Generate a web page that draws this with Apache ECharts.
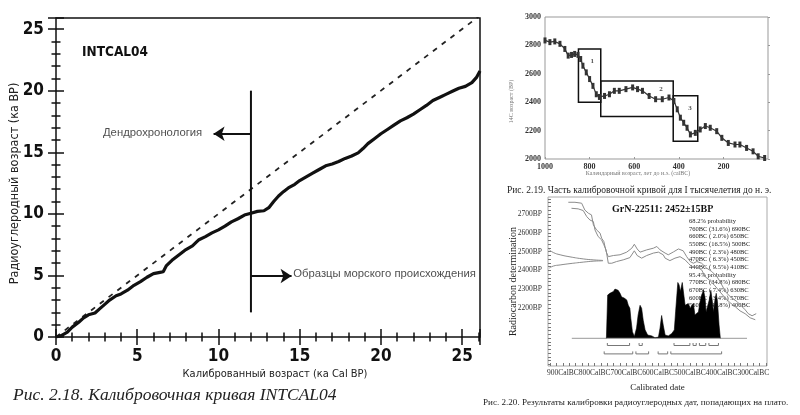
<!DOCTYPE html>
<html><head><meta charset="utf-8">
<script src="https://cdn.jsdelivr.net/npm/echarts@6/dist/echarts.min.js"></script>
<style>html,body{margin:0;padding:0;background:#fff}#c{width:800px;height:415px}</style>
</head><body><div id="c"></div>
<script>
// ---------- Chart 1: INTCAL04 ----------
const intcalCurve = [[0,0],[0.3,0.1],[0.7,0.4],[1.0,0.8],[1.4,1.2],[1.7,1.55],[2.0,1.8],[2.4,1.95],[2.7,2.3],[3.0,2.65],[3.3,3.0],[3.7,3.35],[4.0,3.5],[4.4,3.8],[4.8,4.2],[5.2,4.5],[5.6,4.85],[6.0,5.15],[6.4,5.25],[6.6,5.3],[6.8,5.8],[7.2,6.3],[7.6,6.7],[8.0,7.1],[8.4,7.4],[8.8,7.9],[9.2,8.15],[9.6,8.45],[10.0,8.7],[10.4,9.0],[10.8,9.35],[11.2,9.6],[11.6,9.9],[12.0,10.05],[12.4,10.2],[12.8,10.25],[13.1,10.5],[13.4,11.0],[13.7,11.45],[14.0,11.8],[14.3,12.1],[14.7,12.4],[15.0,12.7],[15.4,13.0],[15.8,13.3],[16.2,13.6],[16.6,13.9],[17.0,14.05],[17.4,14.25],[17.8,14.5],[18.2,14.7],[18.6,14.95],[18.9,15.3],[19.2,15.7],[19.6,16.1],[20.0,16.5],[20.4,16.85],[20.8,17.2],[21.2,17.55],[21.6,17.8],[22.0,18.1],[22.4,18.45],[22.8,18.8],[23.2,19.2],[23.6,19.45],[24.0,19.7],[24.4,19.95],[24.8,20.2],[25.2,20.35],[25.6,20.65],[25.9,21.1],[26.1,21.6]];
const oneToOne = [[0,0],[26,26]];
const dividerLine = [[12,2],[12,20]];
const dendroArrow = [[12,16.5],[9.7,16.5]];
const marineArrow = [[12,4.95],[14.5,4.95]];
const chart1Notes = [
  {name:'Дендрохронология', value:[9.0,16.6], side:'left'},
  {name:'Образцы морского происхождения', value:[14.6,5.1], side:'right'}
];
const chart1Title = 'INTCAL04';
const chart1XName = 'Калиброванный возраст (ка Cal BP)';
const chart1YName = 'Радиоуглеродный возраст (ка BP)';
const caption1 = 'Рис. 2.18. Калибровочная кривая INTCAL04';

// ---------- Chart 2: 1st millennium BC ----------
const c14Curve = [[1000,2835],[978,2823],[956,2828],[933,2811],[911,2775],[896,2728],[881,2733],[867,2740],[852,2733],[840,2704],[830,2657],[815,2610],[800,2563],[785,2515],[770,2456],[756,2437],[733,2444],[711,2456],[689,2480],[667,2480],[637,2492],[607,2504],[585,2492],[563,2480],[533,2444],[504,2421],[474,2421],[444,2433],[422,2409],[407,2350],[393,2291],[378,2255],[363,2220],[348,2173],[326,2184],[304,2208],[281,2232],[259,2220],[230,2196],[207,2149],[178,2113],[148,2102],[126,2102],[96,2078],[67,2054],[44,2019],[15,2007]];
const plateauBoxes = [[850,750,2400,2775],[750,425,2300,2550],[425,315,2125,2445]]; // [fromYear,toYear,lowBP,highBP]
const boxLabels = [{name:'1', value:[788,2690]},{name:'2', value:[480,2490]},{name:'3', value:[350,2360]}];
const chart2XLabels = [1000,800,600,400,200];
const chart2XName = 'Календарный возраст, лет до н.э. (calBC)';
const chart2YName = '14C возраст (BP)';
const caption2 = 'Рис. 2.19. Часть калибровочной кривой для I тысячелетия до н. э.';

// ---------- Chart 3: GrN-22511 ----------
const calUpper = [[883,2762],[862,2762],[841,2757],[831,2721],[820,2704],[810,2695],[804,2642],[794,2615],[783,2598],[778,2571],[771,2553],[764,2500],[757,2473],[741,2479],[720,2483],[699,2497],[683,2518],[675,2539],[666,2514],[657,2497],[636,2509],[615,2518],[604,2527],[594,2509],[578,2492],[568,2483],[552,2498],[536,2514],[521,2504],[510,2473],[499,2447],[489,2438],[478,2447],[463,2438],[447,2412],[431,2394],[415,2367],[405,2341],[394,2306],[384,2279],[368,2253],[352,2235],[336,2208],[326,2191],[316,2170],[304,2159],[291,2170]];
const calLower = [[873,2730],[852,2727],[836,2718],[825,2686],[815,2668],[804,2659],[799,2615],[789,2580],[778,2562],[771,2536],[764,2509],[757,2438],[746,2438],[731,2447],[710,2456],[689,2468],[675,2504],[666,2479],[652,2465],[636,2479],[615,2492],[599,2497],[584,2483],[578,2465],[563,2452],[547,2465],[531,2473],[515,2456],[505,2438],[494,2420],[478,2417],[463,2403],[452,2367],[436,2345],[421,2318],[405,2286],[389,2254],[373,2228],[357,2207],[342,2185],[326,2170],[310,2148],[294,2138]];
const measuredBP = [2510,2495,2483,2472,2461,2456,2452,2449,2444,2436,2429,2423,2412];
const measuredDensity = [0.024,0.096,0.22,0.4,0.64,0.82,1,0.82,0.64,0.4,0.22,0.096,0.024];
const calYears = [763,759,752,741,736,731,726,720,715,707,699,694,689,686,681,675,668,663,657,652,647,641,633,620,610,599,594,589,584,578,568,557,549,545,541,538,534,530,524,519,515,510,505,499,494,489,484,478,473,468,463,457,452,449,444,439,434,429,426,421,417,413,408,404];
const calProb = [0,72,75,78,82,84,80,75,69,67,64,55,50,33,11,3,17,39,55,50,30,14,5.5,4,1,2,17,38,22,5.5,4,8,14,44,72,93,89,78,93,72,55,53,58,50,53,58,39,36,44,61,72,80,67,44,42,64,80,61,44,64,75,61,22,0];
const baselineYears = [872,320];
const ranges68 = [[760,690],[660,650],[550,500],[490,480],[470,450],[440,410]];
const ranges95 = [[770,680],[670,630],[600,570],[560,400]];
const chart3XLabels = [900,800,700,600,500,400,300];
const chart3YLabels = [2700,2600,2500,2400,2300,2200];
const chart3Title = 'GrN-22511: 2452±15BP';
const probLines = ['68.2% probability','760BC (31.6%) 690BC','660BC ( 2.0%) 650BC','550BC (16.5%) 500BC','490BC ( 2.3%) 480BC','470BC ( 6.3%) 450BC','440BC ( 9.5%) 410BC','95.4% probability','770BC (34.8%) 680BC','670BC ( 7.4%) 630BC','600BC ( 3.4%) 570BC','560BC (49.8%) 400BC'];
const chart3XName = 'Calibrated date';
const chart3YName = 'Radiocarbon determination';
const caption3 = 'Рис. 2.20. Результаты калибровки радиоуглеродных дат, попадающих на плато.';

// ---------- rendering ----------
const NARROW = "'Liberation Sans Narrow','DejaVu Sans Condensed','Arial Narrow','Liberation Sans',sans-serif";
const SANS = "'Liberation Sans',Arial,sans-serif";
const SERIF = "'Liberation Serif','Times New Roman',serif";
const tickRange = (a,b,s)=>{const r=[];for(let v=a;s>0?v<=b:v>=b;v+=s)r.push(v);return r;};

const chart = echarts.init(document.getElementById('c'), null, {renderer:'canvas'});
const c1Axis = {type:'value', interval:5, splitLine:{show:false}, axisLine:{show:false}, nameMoveOverlap:false,
  axisTick:{inside:true, length:8, lineStyle:{color:'#111', width:1.5}},
  minorTick:{show:true, splitNumber:5, length:4.5, lineStyle:{color:'#111', width:1.5}},
  minorSplitLine:{show:false}};
const c1Label = {fontFamily:NARROW, fontWeight:'bold', fontSize:17, color:'#111', showMaxLabel:false};
const option = {
  backgroundColor:'#fff',
  animation:false,
  title:[
    {text:chart1Title, left:82, top:45, padding:0, textStyle:{fontFamily:NARROW, fontWeight:'bold', fontSize:13.5, color:'#111'}},
    {text:chart3Title, left:612, top:204, padding:0, textStyle:{fontFamily:SERIF, fontWeight:'bold', fontSize:10, color:'#111'}}
  ],
  grid:[
    {left:56, top:18, width:424, height:319, show:true, borderColor:'#111', borderWidth:1.5, outerBoundsMode:'none', containLabel:false},
    {left:545, top:17, width:223, height:142, show:true, borderColor:'#999', borderWidth:1, outerBoundsMode:'none', containLabel:false},
    {left:548, top:197, width:219, height:169, show:true, borderColor:'#aaa', borderWidth:1, outerBoundsMode:'none', containLabel:false},
    {left:548, top:278.3, width:219, height:79.2, outerBoundsMode:'none', containLabel:false}
  ],
  xAxis:[
    Object.assign({}, c1Axis, {gridIndex:0, min:0, max:26.1, position:'bottom',
      axisLabel:Object.assign({margin:11}, c1Label),
      name:chart1XName, nameLocation:'middle', nameGap:32,
      nameTextStyle:{fontFamily:NARROW, fontSize:11, color:'#222', padding:[0,0,0,14]}}),
    Object.assign({}, c1Axis, {gridIndex:0, min:0, max:26.1, position:'top', axisLabel:{show:false}}),
    {gridIndex:1, type:'value', inverse:true, min:0, max:1000, splitLine:{show:false}, axisLine:{show:false}, nameMoveOverlap:false,
      axisTick:{inside:true, length:2, lineStyle:{color:'#999'}, customValues:chart2XLabels},
      axisLabel:{customValues:chart2XLabels, margin:4, fontFamily:SERIF, fontWeight:'bold', fontSize:8, color:'#333', formatter:v=>String(v)},
      name:chart2XName, nameLocation:'middle', nameGap:11,
      nameTextStyle:{fontFamily:SERIF, fontSize:6, color:'#777', padding:[0,37,0,0]}},
    {gridIndex:2, type:'value', inverse:true, min:257, max:947, splitLine:{show:false}, axisLine:{show:false}, nameMoveOverlap:false,
      axisTick:{inside:true, length:3, lineStyle:{color:'#777'}, customValues:tickRange(940,260,-20)},
      axisLabel:{customValues:chart3XLabels, margin:3, fontFamily:SERIF, fontSize:7.5, color:'#333', formatter:v=>v+'CalBC'},
      name:chart3XName, nameLocation:'middle', nameGap:17,
      nameTextStyle:{fontFamily:SERIF, fontSize:9, color:'#222'}},
    {gridIndex:2, type:'value', min:0, max:3.98, show:false},
    {gridIndex:3, type:'value', inverse:true, min:257, max:947, show:false}
  ],
  yAxis:[
    Object.assign({}, c1Axis, {gridIndex:0, min:0, max:25.9, position:'left',
      axisLabel:Object.assign({margin:12}, c1Label),
      name:chart1YName, nameLocation:'middle', nameRotate:90, nameGap:35,
      nameTextStyle:{fontFamily:NARROW, fontSize:12.5, color:'#222', padding:[0,12,0,0]}}),
    Object.assign({}, c1Axis, {gridIndex:0, min:0, max:25.9, position:'right', axisLabel:{show:false}}),
    {gridIndex:1, type:'value', min:2000, max:3000, interval:200, splitLine:{show:false}, axisLine:{show:false}, nameMoveOverlap:false,
      axisTick:{inside:true, length:2, lineStyle:{color:'#999'}},
      axisLabel:{margin:4, fontFamily:SERIF, fontWeight:'bold', fontSize:8, color:'#333', formatter:v=>String(v)},
      name:chart2YName, nameLocation:'middle', nameRotate:90, nameGap:31,
      nameTextStyle:{fontFamily:SERIF, fontSize:6, color:'#777', padding:[0,27,0,0]}},
    {gridIndex:2, type:'value', min:1892, max:2790, splitLine:{show:false}, axisLine:{show:false}, nameMoveOverlap:false,
      axisTick:{inside:true, length:3, lineStyle:{color:'#777'}, customValues:tickRange(1900,2780,20)},
      axisLabel:{customValues:chart3YLabels, margin:6, fontFamily:SERIF, fontSize:7.5, color:'#333', formatter:v=>v+'BP'},
      name:chart3YName, nameLocation:'middle', nameRotate:90, nameGap:30,
      nameTextStyle:{fontFamily:SERIF, fontSize:10, color:'#222'}},
    {gridIndex:3, type:'value', min:-32, max:100, show:false}
  ],
  series:[
    {type:'line', xAxisIndex:0, yAxisIndex:0, data:oneToOne, symbol:'none', silent:true,
      lineStyle:{color:'#222', width:1.8, type:[5,6]}},
    {type:'line', xAxisIndex:0, yAxisIndex:0, data:intcalCurve, symbol:'none',
      lineStyle:{color:'#111', width:3.2}},
    {type:'line', xAxisIndex:0, yAxisIndex:0, data:dividerLine, symbol:'none',
      lineStyle:{color:'#111', width:2}},
    {type:'lines', coordinateSystem:'cartesian2d', xAxisIndex:0, yAxisIndex:0,
      symbol:['none','arrow'], symbolSize:11,
      lineStyle:{color:'#111', width:2, opacity:1},
      data:[{coords:dendroArrow},{coords:marineArrow}]},
    {type:'scatter', xAxisIndex:0, yAxisIndex:0, symbolSize:0,
      data:chart1Notes.map(n=>({name:n.name, value:n.value, label:{position:n.side}})),
      label:{show:true, formatter:'{b}', distance:0, fontFamily:SANS, fontSize:11.3, color:'#222'}},
    // chart 2
    {type:'line', xAxisIndex:2, yAxisIndex:2, data:c14Curve, symbol:'rect', symbolSize:[3,6],
      itemStyle:{color:'#333'}, lineStyle:{color:'#333', width:1.2},
      markArea:{silent:true, itemStyle:{color:'rgba(0,0,0,0)', borderColor:'#111', borderWidth:1.5},
        data:plateauBoxes.map(b=>[{coord:[b[0],b[3]]},{coord:[b[1],b[2]]}])}},
    {type:'scatter', xAxisIndex:2, yAxisIndex:2, symbolSize:0, data:boxLabels,
      label:{show:true, position:'inside', formatter:'{b}', fontFamily:SERIF, fontWeight:'bold', fontSize:7, color:'#222'}},
    // chart 3
    {type:'line', xAxisIndex:3, yAxisIndex:3, data:calUpper, symbol:'none', lineStyle:{color:'#8c8c8c', width:1}},
    {type:'line', xAxisIndex:3, yAxisIndex:3, data:calLower, symbol:'none', lineStyle:{color:'#8c8c8c', width:1}},
    {type:'line', xAxisIndex:4, yAxisIndex:3, data:measuredBP.map((b,i)=>[measuredDensity[i], b]), symbol:'none', smooth:true,
      lineStyle:{color:'#8c8c8c', width:1}},
    {type:'line', xAxisIndex:5, yAxisIndex:4, data:baselineYears.map(y=>[y,0]), symbol:'none',
      lineStyle:{color:'#999', width:1}},
    {type:'line', xAxisIndex:5, yAxisIndex:4, data:calYears.map((y,i)=>[y, calProb[i]]), symbol:'none',
      lineStyle:{color:'#000', width:0.6}, areaStyle:{color:'#000', opacity:1, origin:0}},
    {type:'custom', xAxisIndex:5, yAxisIndex:4, encode:{x:[0,1], y:2},
      data:ranges68.map(r=>[r[0],r[1],-12]).concat(ranges95.map(r=>[r[0],r[1],-26])),
      renderItem:(params, api)=>{
        const p0 = api.coord([api.value(0), api.value(2)]);
        const p1 = api.coord([api.value(1), api.value(2)]);
        const h = 2.5;
        return {type:'polyline', shape:{points:[[p0[0],p0[1]-h],p0,p1,[p1[0],p1[1]-h]]},
          style:{stroke:'#777', fill:null, lineWidth:1}};
      }}
  ],
  graphic:[
    {type:'text', left:13, top:386, style:{text:caption1, font:"italic 17.5px 'Liberation Serif','Times New Roman',serif", fill:'#222'}},
    {type:'text', left:507, top:185, style:{text:caption2, font:"9.5px 'Liberation Serif','Times New Roman',serif", fill:'#222'}},
    {type:'text', left:483, top:398, style:{text:caption3, font:"9.1px 'Liberation Serif','Times New Roman',serif", fill:'#222'}},
    {type:'text', left:689, top:217.5, style:{text:probLines.join('\n'), font:"6.5px 'Liberation Serif','Times New Roman',serif", lineHeight:7.65, fill:'#222'}}
  ]
};
chart.setOption(option);
</script></body></html>
